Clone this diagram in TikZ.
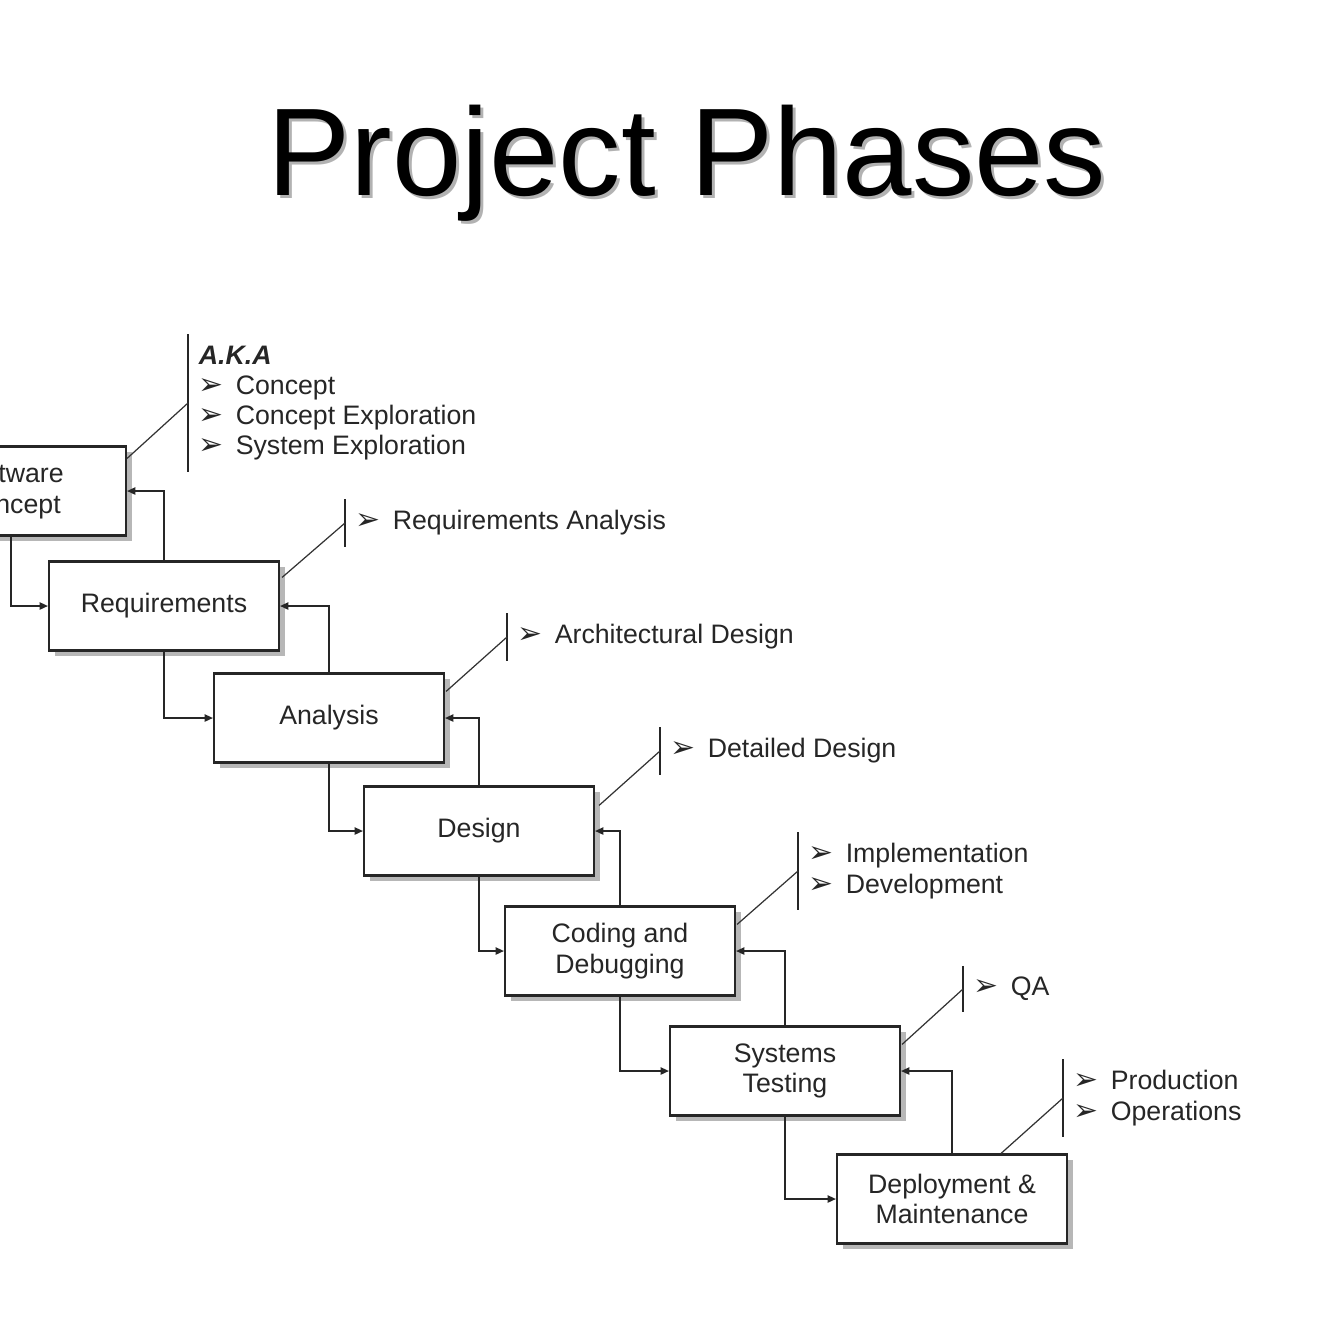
\documentclass[tikz,border=0pt]{standalone}
\usepackage{fontspec}
\setmainfont{Liberation Sans}
\newfontfamily\dingfont{DejaVu Sans}
\usetikzlibrary{arrows.meta,shadows}

\newcommand{\ppTitle}{\fontsize{35.5}{40}\selectfont}
\newcommand{\ppText}{\fontsize{7.6}{8.6}\selectfont}
\newcommand{\bul}{\makebox[10.5pt][l]{\dingfont\fontsize{8.5}{8.6}\selectfont ➢}}

\tikzset{
  phase/.style={draw=black!85,line width=0.6pt,fill=white,
    minimum width=23mm,minimum height=8.9mm,align=center,
    font=\ppText,text=black!85,
    drop shadow={shadow xshift=1.7pt,shadow yshift=-1.7pt,fill=black!40,opacity=0.7}},
  note/.style={anchor=west,align=left,inner xsep=2.9pt,inner ysep=3pt,
    font=\ppText,text=black!85},
  link/.style={draw=black!85,line width=0.45pt,-{Triangle[length=2.4pt,width=2.1pt]}},
  lead/.style={draw=black!80,line width=0.35pt},
  bar/.style={draw=black!85,line width=0.45pt},
}

\begin{document}
\begin{tikzpicture}[x=0.1mm,y=-0.1mm]
\path[use as bounding box] (0,0) rectangle (1334,1334);
\clip (0,0) rectangle (1334,1334);
% title
\node[font=\ppTitle,text=black!30,anchor=base] (titleshadow) at (690,198) {Project Phases};
\node[font=\ppTitle,anchor=base] (title) at (687,195) {Project Phases};
% phases
\node[phase] (sc) at (11,491)  {Software\\Concept};
\node[phase] (rq) at (164,606) {Requirements};
\node[phase] (an) at (329,718) {Analysis};
\node[phase] (de) at (479,831) {Design};
\node[phase] (cd) at (620,951) {Coding and\\Debugging};
\node[phase] (st) at (785,1071) {Systems\\Testing};
\node[phase] (dm) at (952,1199) {Deployment \&\\Maintenance};
% flow down and back up
\foreach \a/\b in {sc/rq,rq/an,an/de,de/cd,cd/st,st/dm}{
  \draw[link] (\a.south) |- (\b.west);
  \draw[link] (\b.north) |- (\a.east);}
% also known as
\node[note] (sc-note) at (188,403) {\textbf{\textit{A.K.A}}\\\bul Concept\\\bul Concept Exploration\\\bul System Exploration};
\node[note] (rq-note) at (345,523) {\bul Requirements Analysis};
\node[note] (an-note) at (507,637) {\bul Architectural Design};
\node[note] (de-note) at (660,751) {\bul Detailed Design};
\node[note] (cd-note) at (798,871) {\bul Implementation\\\bul Development};
\node[note] (st-note) at (963,989) {\bul QA};
\node[note] (dm-note) at (1063,1098) {\bul Production\\\bul Operations};
\foreach \n in {sc,rq,an,de,cd,st,dm}{
  \draw[bar] (\n-note.north west) -- (\n-note.south west);}
\draw[lead] ([shift={(0,13)}]sc.north east) -- (sc-note.west);
\draw[lead] ([shift={(2,17)}]rq.north east) -- (rq-note.west);
\draw[lead] ([shift={(1,19)}]an.north east) -- (an-note.west);
\draw[lead] ([shift={(4,20)}]de.north east) -- (de-note.west);
\draw[lead] ([shift={(1,19)}]cd.north east) -- (cd-note.west);
\draw[lead] ([shift={(1,19)}]st.north east) -- (st-note.west);
\draw[lead] ([shift={(49,0)}]dm.north) -- (dm-note.west);
\end{tikzpicture}
\end{document}
